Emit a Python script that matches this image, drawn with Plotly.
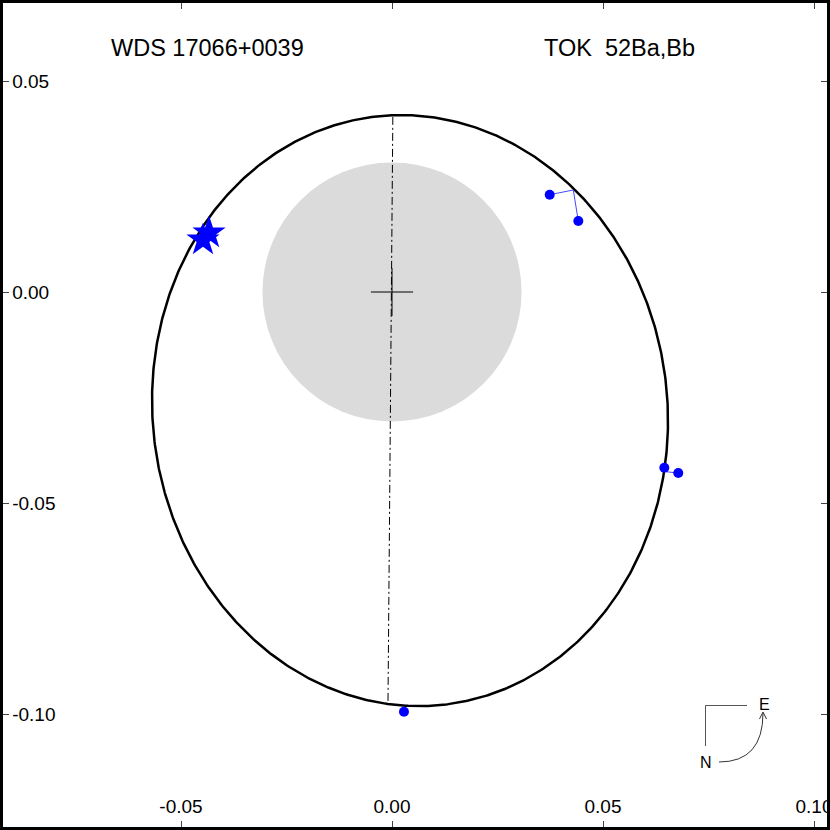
import numpy as np
import plotly.graph_objects as go

# ---------------- data (arcsec) ----------------
title_left = "WDS 17066+0039"
title_right = "TOK\u00a0 52Ba,Bb"

x_tickvals = [-0.05, 0.00, 0.05, 0.10]
x_ticktext = ["-0.05", "0.00", "0.05", "0.10"]
y_tickvals = [0.05, 0.00, -0.05, -0.10]
y_ticktext = ["0.05", "0.00", "-0.05", "-0.10"]

# projected orbit (apparent ellipse)
orbit_center = [0.00427, -0.0281]
orbit_semi_major = 0.07015
orbit_semi_minor = 0.06099
orbit_tilt_deg = 7.0          # major axis, counter-clockwise from +y

# line of nodes end points
node_x = [0.0002, -0.00095]
node_y = [0.0415, -0.0974]

# grey disk radius (resolution limit)
disk_radius = 0.0307

# observations (filled dots) and their computed positions
obs_x = [0.03737, 0.04415, 0.06453, 0.06784, 0.00284]
obs_y = [0.02306, 0.01682, -0.04164, -0.04289, -0.09945]
fit_x = [0.04296, 0.04296, 0.06462, 0.06486, 0.00284]
fit_y = [0.02417, 0.02417, -0.04180, -0.04258, -0.09858]

# star-symbol measurements
star_x = [-0.04336, -0.04479]
star_y = [0.01398, 0.01232]

# ---------------- figure ----------------
W = H = 830
M = 3
PX_PER_UNIT = 4220.0
x0_px, y0_px = 392.0, 292.0
xr = [(M - x0_px) / PX_PER_UNIT, (W - M - x0_px) / PX_PER_UNIT]
yr = [(y0_px - (H - M)) / PX_PER_UNIT, (y0_px - M) / PX_PER_UNIT]

def paper_x(px):
    return (px - M) / (W - 2 * M)

def paper_y(py):
    return (H - M - py) / (H - 2 * M)

fig = go.Figure()

# orbit ellipse
t = np.linspace(0, 2 * np.pi, 721)
phi = np.radians(orbit_tilt_deg)
u = np.array([-np.sin(phi), np.cos(phi)])
v = np.array([np.cos(phi), np.sin(phi)])
ex = orbit_center[0] + orbit_semi_major * np.cos(t) * u[0] + orbit_semi_minor * np.sin(t) * v[0]
ey = orbit_center[1] + orbit_semi_major * np.cos(t) * u[1] + orbit_semi_minor * np.sin(t) * v[1]

fig.add_trace(go.Scatter(x=node_x, y=node_y, mode="lines",
                         line=dict(color="black", width=1, dash="8px,3px,2px,3px"),
                         hoverinfo="skip"))
fig.add_trace(go.Scatter(x=ex, y=ey, mode="lines",
                         line=dict(color="black", width=2.5), hoverinfo="skip"))

# residual lines
rx, ry = [], []
for a, b, c, d in zip(obs_x, obs_y, fit_x, fit_y):
    rx += [a, c, None]
    ry += [b, d, None]
fig.add_trace(go.Scatter(x=rx, y=ry, mode="lines",
                         line=dict(color="rgb(70,70,255)", width=1), hoverinfo="skip"))

fig.add_trace(go.Scatter(x=obs_x, y=obs_y, mode="markers",
                         marker=dict(color="blue", size=10, line=dict(width=0))))
fig.add_trace(go.Scatter(x=star_x, y=star_y, mode="markers",
                         marker=dict(color="blue", symbol="star", size=25, line=dict(width=0))))

shapes = [
    dict(type="circle", xref="x", yref="y", x0=-disk_radius, x1=disk_radius,
         y0=-disk_radius, y1=disk_radius, fillcolor="rgb(219,219,219)",
         line=dict(width=0), layer="below"),
    dict(type="line", xref="x", yref="y", x0=-0.005, x1=0.005, y0=0, y1=0,
         line=dict(color="black", width=1)),
    dict(type="line", xref="x", yref="y", x0=0, x1=0, y0=-0.0057, y1=0.0057,
         line=dict(color="black", width=1)),
    # compass
    dict(type="path", xref="paper", yref="paper",
         path=f"M {paper_x(705.5)} {paper_y(746)} L {paper_x(705.5)} {paper_y(705.5)} L {paper_x(747)} {paper_y(705.5)}",
         line=dict(color="#555555", width=1)),
    dict(type="path", xref="paper", yref="paper",
         path=f"M {paper_x(719)} {paper_y(762)} Q {paper_x(763)} {paper_y(762)} {paper_x(763)} {paper_y(713)}",
         line=dict(color="#333333", width=1)),
    dict(type="path", xref="paper", yref="paper",
         path=f"M {paper_x(759.5)} {paper_y(719)} L {paper_x(763)} {paper_y(712)} L {paper_x(766.5)} {paper_y(719)}",
         line=dict(color="#333333", width=1)),
]

font_family = "Liberation Sans, Arial, Helvetica, sans-serif"

def label(text, px, py, size):
    return dict(text=text, x=paper_x(px), y=paper_y(py), xref="paper", yref="paper",
                xanchor="center", yanchor="middle", showarrow=False,
                font=dict(size=size, color="black", family=font_family))

annotations = [
    label(title_left, 207.5, 48, 23.5),
    label(title_right, 619, 48, 23.5),
    label("E", 764, 704, 16),
    label("N", 706, 762, 16),
]

axis_common = dict(showgrid=False, zeroline=False, showline=True, linecolor="black",
                   linewidth=3, mirror="ticks", ticks="inside", ticklen=6, tickwidth=1,
                   tickcolor="#444444", ticklabelposition="inside",
                   ticklabeloverflow="allow", automargin=False,
                   tickfont=dict(size=19, color="black", family=font_family))

fig.update_layout(
    width=W, height=H, margin=dict(l=M, r=M, t=M, b=M, pad=0, autoexpand=False),
    paper_bgcolor="white", plot_bgcolor="white", showlegend=False,
    xaxis=dict(range=xr, tickvals=x_tickvals, ticktext=x_ticktext,
               ticklabelstandoff=5, **axis_common),
    yaxis=dict(range=yr, tickvals=y_tickvals, ticktext=y_ticktext,
               ticklabelstandoff=4, **axis_common),
    shapes=shapes, annotations=annotations,
)

fig.write_html("out.html", config={"displayModeBar": False},
               post_script="document.body.style.margin='0';document.body.style.padding='0';")
